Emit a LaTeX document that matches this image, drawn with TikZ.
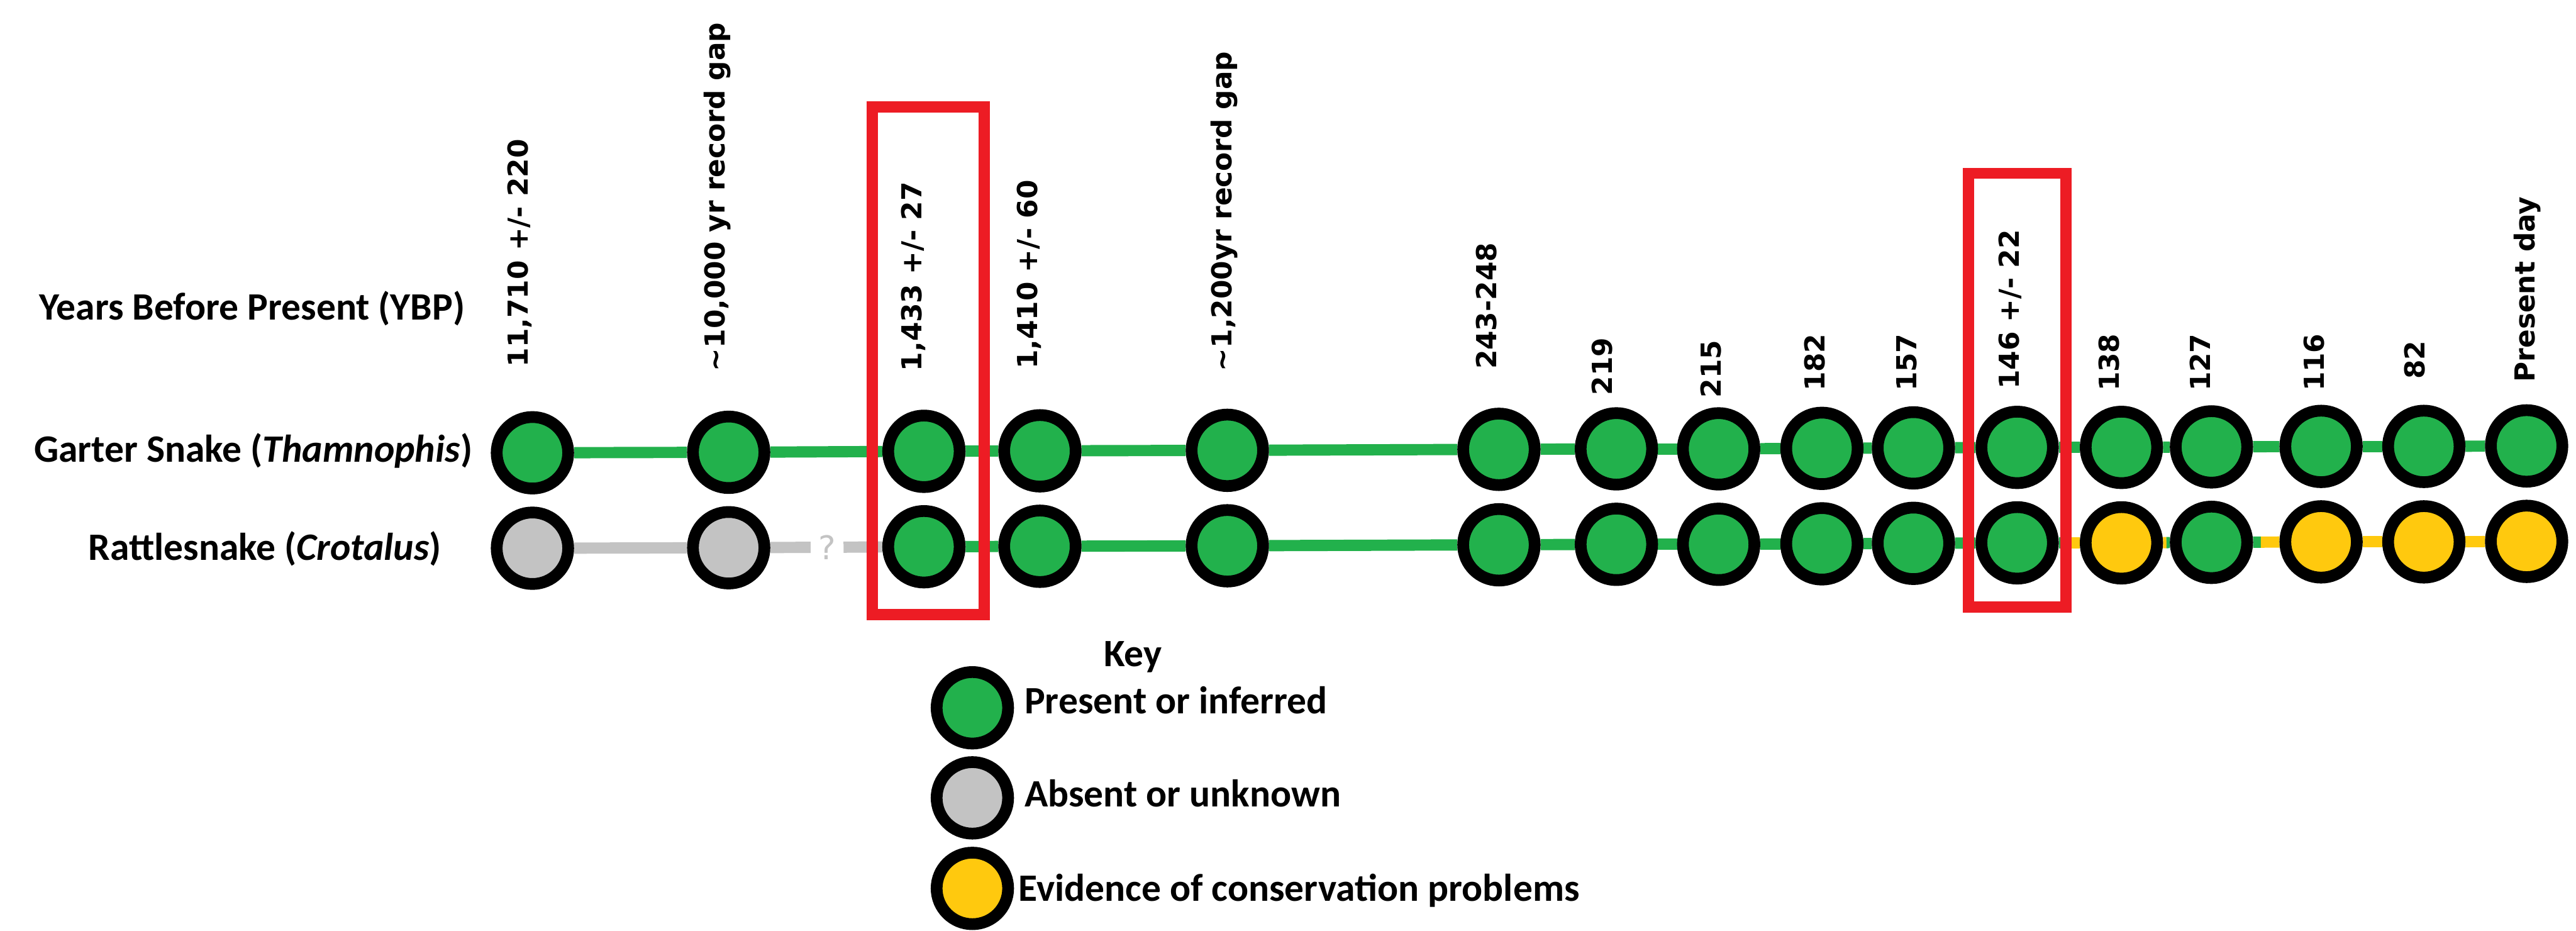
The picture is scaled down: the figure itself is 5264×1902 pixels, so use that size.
\documentclass[tikz,border=0pt]{standalone}
\usepackage{fontspec}
\setmainfont{Carlito}
\newfontfamily\labfont{DejaVu Sans}
\usetikzlibrary{calc}
\pgfdeclarelayer{back}
\pgfdeclarelayer{bg}
\pgfsetlayers{back,bg,main}
\definecolor{pgreen}{RGB}{34,177,76}
\definecolor{pgray}{RGB}{195,195,195}
\definecolor{pyellow}{RGB}{255,201,14}
\definecolor{pred}{RGB}{237,28,36}
\begin{document}
\begin{tikzpicture}[x=0.01cm,y=-0.01cm,
  dot/.style={circle,draw=black,line width=0.24cm,minimum size=1.46cm,inner sep=0pt},
  gdot/.style={dot,fill=pgreen},
  adot/.style={dot,fill=pgray},
  ydot/.style={dot,fill=pyellow},
  conn/.style={line width=0.23cm},
  gline/.style={conn,draw=pgreen},
  aline/.style={conn,draw=pgray},
  yline/.style={conn,draw=pyellow},
  ylab/.style={font=\labfont\bfseries\fontsize{16}{19}\selectfont,rotate=90,anchor=mid west,inner sep=0pt},
  side/.style={font=\bfseries\fontsize{22.5}{27}\selectfont,anchor=base west,inner sep=0pt},
  redbox/.style={draw=pred,line width=0.23cm}]
\useasboundingbox (0,0) rectangle (5264,1902);
\begin{pgfonlayer}{back}
\fill[white] (0,0) rectangle (5264,1902);
\end{pgfonlayer}

% side titles
\node[side] (ybp) at (80,653) {Years Before Present (YBP)};
\node[side] (garter) at (69,944) {Garter Snake (\textit{Thamnophis})};
\node[side] (rattle) at (180,1145) {Rattlesnake (\textit{Crotalus})};

% year labels
\node[ylab] (l1) at (1071,750) {11,710 +/- 220};
\node[ylab] (l2) at (1473,759) {\textasciitilde 10,000 yr record gap};
\node[ylab] (l3) at (1875,759) {1,433 +/- 27};
\node[ylab] (l4) at (2112,755) {1,410 +/- 60};
\node[ylab] (l5) at (2508,759) {\textasciitilde 1,200yr record gap};
\node[ylab] (l6) at (3050,755) {243-248};
\node[ylab] (l7) at (3286,808) {219};
\node[ylab] (l8) at (3509,813) {215};
\node[ylab] (l9) at (3720,800) {182};
\node[ylab] (l10) at (3908,800) {157};
\node[ylab] (l11) at (4117,796) {146 +/- 22};
\node[ylab] (l12) at (4322,800) {138};
\node[ylab] (l13) at (4508,800) {127};
\node[ylab] (l14) at (4741,800) {116};
\node[ylab] (l15) at (4947,775) {82};
\node[ylab] (l16) at (5171,781) {Present day};

% garter snake row
\node[gdot] (g1) at (1088,925) {};
\node[gdot] (g2) at (1489,924) {};
\node[gdot] (g3) at (1888,922) {};
\node[gdot] (g4) at (2125,921) {};
\node[gdot] (g5) at (2508,920) {};
\node[gdot] (g6) at (3063,918) {};
\node[gdot] (g7) at (3303,917) {};
\node[gdot] (g8) at (3512,917) {};
\node[gdot] (g9) at (3723,916) {};
\node[gdot] (g10) at (3910,915) {};
\node[gdot] (g11) at (4122,914) {};
\node[gdot] (g12) at (4335,914) {};
\node[gdot] (g13) at (4519,913) {};
\node[gdot] (g14) at (4743,912) {};
\node[gdot] (g15) at (4953,912) {};
\node[gdot] (g16) at (5163,911) {};

% rattlesnake row
\node[adot] (r1) at (1088,1120) {};
\node[adot] (r2) at (1489,1119) {};
\node[font=\labfont\fontsize{19}{22}\selectfont,text=pgray,inner sep=0pt,minimum width=0.66cm,minimum height=0.5cm] (q) at (1690,1118) {?};
\node[gdot] (r3) at (1888,1117) {};
\node[gdot] (r4) at (2125,1116) {};
\node[gdot] (r5) at (2508,1115) {};
\node[gdot] (r6) at (3063,1113) {};
\node[gdot] (r7) at (3303,1112) {};
\node[gdot] (r8) at (3512,1112) {};
\node[gdot] (r9) at (3723,1111) {};
\node[gdot] (r10) at (3910,1110) {};
\node[gdot] (r11) at (4122,1109) {};
\node[ydot] (r12) at (4335,1109) {};
\node[gdot] (r13) at (4519,1108) {};
\node[ydot] (r14) at (4743,1107) {};
\node[ydot] (r15) at (4953,1107) {};
\node[ydot] (r16) at (5163,1106) {};

% connectors
\begin{pgfonlayer}{bg}
\draw[gline] (g1) -- (g2);
\draw[gline] (g2) -- (g3);
\draw[gline] (g3) -- (g4);
\draw[gline] (g4) -- (g5);
\draw[gline] (g5) -- (g6);
\draw[gline] (g6) -- (g7);
\draw[gline] (g7) -- (g8);
\draw[gline] (g8) -- (g9);
\draw[gline] (g9) -- (g10);
\draw[gline] (g10) -- (g11);
\draw[gline] (g11) -- (g12);
\draw[gline] (g12) -- (g13);
\draw[gline] (g13) -- (g14);
\draw[gline] (g14) -- (g15);
\draw[gline] (g15) -- (g16);
\draw[aline] (r1) -- (r2);
\draw[aline] (r2) -- (q);
\draw[aline] (q) -- (r3);
\draw[gline] (r3) -- (r4);
\draw[gline] (r4) -- (r5);
\draw[gline] (r5) -- (r6);
\draw[gline] (r6) -- (r7);
\draw[gline] (r7) -- (r8);
\draw[gline] (r8) -- (r9);
\draw[gline] (r9) -- (r10);
\draw[gline] (r10) -- (r11);
\draw[gline] (r11) -- ($(r11)!0.5!(r12)$);
\draw[yline] ($(r11)!0.5!(r12)$) -- (r12);
\draw[yline] (r12) -- ($(r12)!0.5!(r13)$);
\draw[gline] ($(r12)!0.5!(r13)$) -- (r13);
\draw[gline] (r13) -- ($(r13)!0.45!(r14)$);
\draw[yline] ($(r13)!0.45!(r14)$) -- (r14);
\draw[yline] (r14) -- (r15);
\draw[yline] (r15) -- (r16);
\end{pgfonlayer}

% highlight boxes
\draw[redbox] (1783,218) rectangle (2011,1255);
\draw[redbox] (4023,354) rectangle (4222,1240);

% key
\node[side,anchor=base] (key) at (2315,1361) {Key};
\node[gdot] (k1) at (1987,1446) {};
\node[adot] (k2) at (1987,1630) {};
\node[ydot] (k3) at (1987,1815) {};
\node[side] (t1) at (2093,1458) {Present or inferred};
\node[side] (t2) at (2093,1648) {Absent or unknown};
\node[side] (t3) at (2081,1841) {Evidence of conservation problems};
\end{tikzpicture}
\end{document}
